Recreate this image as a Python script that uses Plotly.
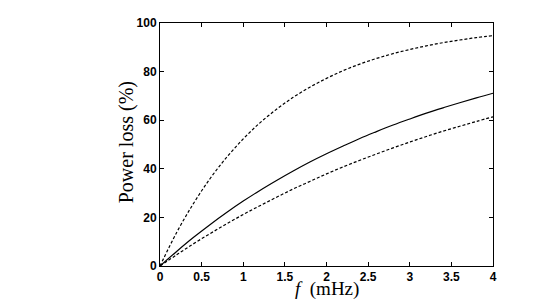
import plotly.graph_objects as go

# frequency (mHz)
f_mhz = [0, 0.2, 0.4, 0.6, 0.8, 1.0, 1.2, 1.4, 1.6, 1.8, 2.0,
         2.2, 2.4, 2.6, 2.8, 3.0, 3.2, 3.4, 3.6, 3.8, 4.0]

# power loss (%)
loss_upper = [0, 13.8, 25.6, 35.9, 44.7, 52.3, 58.9, 64.5, 69.4, 73.6, 77.2,
              80.4, 83.1, 85.4, 87.4, 89.1, 90.6, 91.9, 93.0, 94.0, 94.8]
loss_mid = [0, 6.0, 11.7, 17.0, 22.0, 26.7, 31.1, 35.2, 39.1, 42.8, 46.2,
            49.4, 52.5, 55.3, 58.0, 60.5, 62.9, 65.1, 67.2, 69.2, 71.1]
loss_lower = [0, 4.6, 9.1, 13.3, 17.3, 21.2, 24.8, 28.3, 31.7, 34.8, 37.9,
              40.8, 43.5, 46.1, 48.6, 51.0, 53.3, 55.5, 57.5, 59.5, 61.4]

x_ticks = [0, 0.5, 1, 1.5, 2, 2.5, 3, 3.5, 4]
y_ticks = [0, 20, 40, 60, 80, 100]

fig = go.Figure()
fig.add_trace(go.Scatter(x=f_mhz, y=loss_upper, mode='lines', line_shape='spline',
                         line=dict(color='black', width=1.2, dash='3px,2px')))
fig.add_trace(go.Scatter(x=f_mhz, y=loss_mid, mode='lines', line_shape='spline',
                         line=dict(color='black', width=1.2)))
fig.add_trace(go.Scatter(x=f_mhz, y=loss_lower, mode='lines', line_shape='spline',
                         line=dict(color='black', width=1.2, dash='3px,2px')))

tickfont = dict(family='Liberation Sans', size=12, color='black', weight='bold')

fig.update_xaxes(range=[0, 4], tickvals=x_ticks, ticks='inside', ticklen=4,
                 tickcolor='black', showline=True, linecolor='black', linewidth=1,
                 mirror='ticks', showgrid=False, zeroline=False, tickfont=tickfont,
                 automargin=False)
fig.update_yaxes(range=[0, 100], tickvals=y_ticks, ticks='inside', ticklen=4,
                 tickcolor='black', showline=True, linecolor='black', linewidth=1,
                 mirror='ticks', showgrid=False, zeroline=False, tickfont=tickfont,
                 automargin=False)

# axis titles as annotations so they sit where the original has them
fig.add_annotation(text='<i>f</i>  (mHz)', xref='paper', yref='paper',
                   x=0.5, y=-0.094, xanchor='center', yanchor='middle',
                   showarrow=False,
                   font=dict(family='Liberation Serif', size=19, color='black'))
fig.add_annotation(text='Power loss (%)', xref='paper', yref='paper',
                   x=-0.1, y=0.508, xanchor='center', yanchor='middle',
                   textangle=-90, showarrow=False,
                   font=dict(family='Liberation Serif', size=20, color='black'))

# the page adds an 8px body margin, so margins are shifted by that
fig.update_layout(width=545, height=300, showlegend=False,
                  margin=dict(l=152, r=60, t=15, b=42),
                  plot_bgcolor='white', paper_bgcolor='white')

fig.write_html("out.html")
